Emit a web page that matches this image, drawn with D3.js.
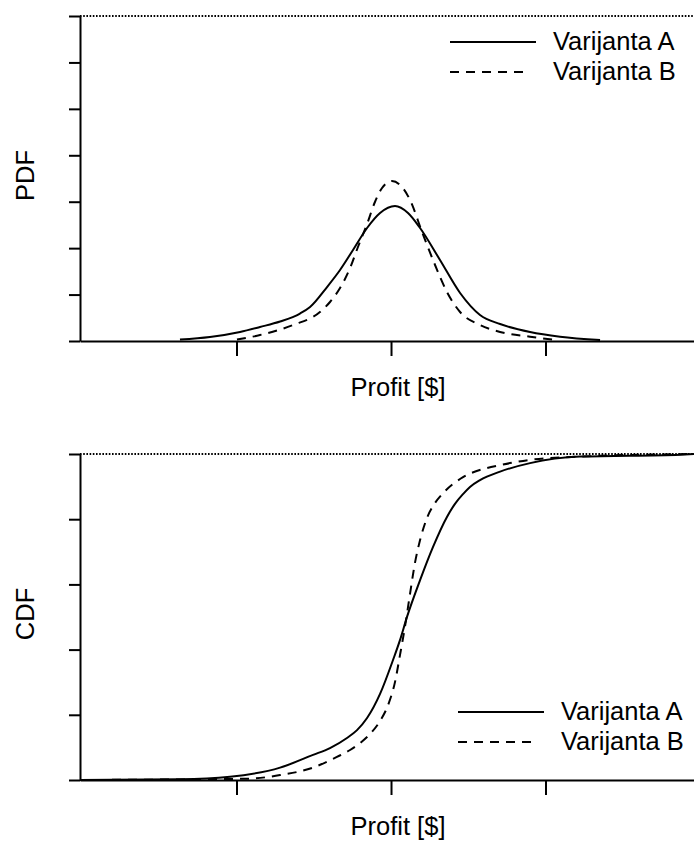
<!DOCTYPE html>
<html>
<head>
<meta charset="utf-8">
<script src="https://cdn.jsdelivr.net/npm/d3@7"></script>
<style>
  html, body { margin: 0; padding: 0; background: #fff; }
  svg { display: block; font-family: "Liberation Sans", Arial, Helvetica, sans-serif; }
</style>
</head>
<body>
<svg id="chart" width="694" height="841"></svg>
<script>
// ---- Data (x in arbitrary profit units, ticks at -1, 0, 1) ----
const seriesNames = ["Varijanta A", "Varijanta B"];
const xTickValues = [-1, 0, 1];
const pdfTickValues = [0, 1, 2, 3, 4, 5, 6, 7];
const cdfTickValues = [0, 0.2, 0.4, 0.6, 0.8, 1.0];

// PDF – Varijanta A
const pdfAx = [-1.366, -1.172, -0.977, -0.848, -0.718, -0.589, -0.524, -0.414, -0.330, -0.246, -0.155, -0.071, 0.026, 0.110, 0.188, 0.317, 0.447, 0.576, 0.706, 0.900, 1.094, 1.353];
const pdfAy = [0.032, 0.086, 0.194, 0.302, 0.420, 0.592, 0.732, 1.163, 1.529, 1.960, 2.434, 2.757, 2.907, 2.757, 2.434, 1.745, 1.034, 0.560, 0.366, 0.194, 0.093, 0.022];
// PDF – Varijanta B
const pdfBx = [-0.997, -0.848, -0.634, -0.460, -0.395, -0.330, -0.265, -0.214, -0.155, -0.104, -0.058, 0.006, 0.071, 0.123, 0.201, 0.285, 0.362, 0.447, 0.576, 0.706, 0.900, 1.061];
const pdfBy = [0.032, 0.129, 0.345, 0.624, 0.840, 1.141, 1.572, 2.025, 2.520, 2.994, 3.295, 3.446, 3.317, 3.037, 2.348, 1.637, 1.055, 0.625, 0.345, 0.194, 0.093, 0.022];

// CDF – Varijanta A
const cdfAx = [-2.013, -1.366, -1.042, -0.718, -0.505, -0.395, -0.285, -0.220, -0.155, -0.071, 0.013, 0.058, 0.104, 0.188, 0.272, 0.362, 0.414, 0.466, 0.511, 0.576, 0.706, 0.900, 1.223, 1.871, 1.961];
const cdfAy = [0.000, 0.002, 0.010, 0.038, 0.077, 0.098, 0.129, 0.153, 0.190, 0.264, 0.368, 0.429, 0.501, 0.613, 0.715, 0.807, 0.847, 0.877, 0.899, 0.920, 0.946, 0.972, 0.992, 0.998, 1.000];
// CDF – Varijanta B
const cdfBx = [-2.013, -0.932, -0.718, -0.505, -0.350, -0.265, -0.201, -0.136, -0.071, -0.019, 0.026, 0.058, 0.091, 0.123, 0.155, 0.188, 0.233, 0.285, 0.337, 0.466, 0.621, 0.706, 0.900, 1.223, 1.961];
const cdfBy = [0.000, 0.004, 0.015, 0.038, 0.071, 0.092, 0.113, 0.141, 0.181, 0.230, 0.301, 0.383, 0.472, 0.571, 0.666, 0.736, 0.804, 0.850, 0.880, 0.929, 0.957, 0.966, 0.982, 0.992, 1.000];

// ---- Layout ----
const svg = d3.select("#chart");
const plotLeft = 80, plotRight = 694;
const xDomain = [-2.013, 1.961];
const dashPattern = "9,7";
const fontSize = 25.5;

const x = d3.scaleLinear().domain(xDomain).range([plotLeft, plotRight]);

function zip(xs, ys) { return xs.map((v, i) => [v, ys[i]]); }

function panel(cfg) {
  const y = d3.scaleLinear().domain(cfg.yDomain).range([cfg.bottom, cfg.top]);
  const g = svg.append("g");

  // dotted line at top (y max)
  g.append("line")
    .attr("x1", x(xDomain[0])).attr("x2", x(xDomain[1]))
    .attr("y1", y(cfg.yDomain[1])).attr("y2", y(cfg.yDomain[1]))
    .attr("stroke", "#000").attr("stroke-width", 2)
    .attr("stroke-dasharray", "1.6,1.6");

  const line = d3.line().x(d => x(d[0])).y(d => y(d[1])).curve(d3.curveMonotoneX);

  // curves
  g.append("path").datum(zip(cfg.ax, cfg.ay))
    .attr("d", line).attr("fill", "none").attr("stroke", "#000").attr("stroke-width", 2);
  g.append("path").datum(zip(cfg.bx, cfg.by))
    .attr("d", line).attr("fill", "none").attr("stroke", "#000").attr("stroke-width", 2)
    .attr("stroke-dasharray", dashPattern);

  // axes
  const xAxis = g.append("g").attr("transform", `translate(0,${cfg.bottom})`)
    .call(d3.axisBottom(x).tickValues(xTickValues).tickFormat("").tickSizeInner(15).tickSizeOuter(0));
  const yAxis = g.append("g").attr("transform", `translate(${plotLeft},0)`)
    .call(d3.axisLeft(y).tickValues(cfg.yTicks).tickFormat("").tickSizeInner(11).tickSizeOuter(0));
  [xAxis, yAxis].forEach(a => {
    a.select(".domain").attr("stroke", "#000").attr("stroke-width", 2);
    a.selectAll(".tick line").attr("stroke", "#000").attr("stroke-width", 2);
  });

  // axis titles
  g.append("text").attr("x", 398).attr("y", cfg.bottom + 55)
    .attr("text-anchor", "middle").attr("font-size", fontSize).attr("fill", "#000")
    .text("Profit [$]");
  g.append("text")
    .attr("transform", `translate(34,${(cfg.top + cfg.bottom) / 2 - 3}) rotate(-90)`)
    .attr("text-anchor", "middle").attr("font-size", fontSize).attr("fill", "#000")
    .text(cfg.yLabel);

  // legend
  const lg = g.append("g");
  seriesNames.forEach((name, i) => {
    const ly = cfg.legendY + i * 30;
    lg.append("line")
      .attr("x1", cfg.legendX).attr("x2", cfg.legendX + (i === 0 ? 86 : 78))
      .attr("y1", ly).attr("y2", ly)
      .attr("stroke", "#000").attr("stroke-width", 2)
      .attr("stroke-dasharray", i === 0 ? null : dashPattern);
    lg.append("text")
      .attr("x", cfg.legendX + 103).attr("y", ly + 8)
      .attr("font-size", fontSize).attr("fill", "#000")
      .text(name);
  });
}

panel({
  top: 16, bottom: 341, yDomain: [0, 7], yTicks: pdfTickValues, yLabel: "PDF",
  ax: pdfAx, ay: pdfAy, bx: pdfBx, by: pdfBy, legendX: 450, legendY: 42
});
panel({
  top: 454, bottom: 780, yDomain: [0, 1], yTicks: cdfTickValues, yLabel: "CDF",
  ax: cdfAx, ay: cdfAy, bx: cdfBx, by: cdfBy, legendX: 458, legendY: 712
});
</script>
</body>
</html>
